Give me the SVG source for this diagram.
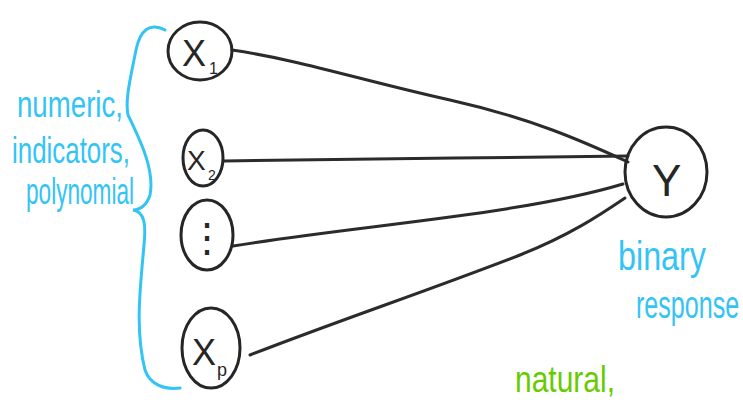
<svg xmlns="http://www.w3.org/2000/svg" width="743" height="402" viewBox="0 0 743 402">
<style>
.node{fill:none;stroke:#262626;stroke-width:3}
.lbl{font-family:"Liberation Sans",Arial,sans-serif;fill:#262626}
.edge{fill:none;stroke:#2b2b2b;stroke-width:3;stroke-linecap:round}
.blue{font-family:"Liberation Sans",Arial,sans-serif;fill:#33c4f5}
.green{font-family:"Liberation Sans",Arial,sans-serif;fill:#66cc00}
</style>
<rect width="743" height="402" fill="#fff"/>
<g id="connectors">
<path class="edge" d="M232 50 C300 60 360 80 450 100 C530 118 580 140 628 162"/>
<path class="edge" d="M224 161 C340 160 500 157 628 156"/>
<path class="edge" d="M233 246 C360 225 520 215 623 184"/>
<path class="edge" d="M250 355 C340 320 430 290 520 255 C570 235 600 215 625 198"/>
</g>
<g id="x1">
<ellipse class="node" cx="200" cy="51" rx="32" ry="29"/>
<text class="lbl" x="182" y="66" font-size="36">X</text>
<text class="lbl" x="209" y="74" font-size="16">1</text>
</g>
<g id="x2">
<ellipse class="node" cx="203" cy="158" rx="20" ry="28"/>
<text class="lbl" x="187" y="170" font-size="28">X</text>
<text class="lbl" x="208" y="180" font-size="14">2</text>
</g>
<g id="xdots">
<ellipse class="node" cx="207" cy="235" rx="26" ry="35"/>
<text class="lbl" x="207" y="251" font-size="40" text-anchor="middle" font-family="DejaVu Sans,sans-serif">⋮</text>
</g>
<g id="xp">
<ellipse class="node" cx="211" cy="348" rx="29" ry="40"/>
<text class="lbl" x="192" y="365" font-size="36">X</text>
<text class="lbl" x="217" y="376" font-size="18">p</text>
</g>
<g id="y">
<ellipse class="node" cx="666" cy="172" rx="41" ry="45"/>
<text class="lbl" x="652" y="196" font-size="44">Y</text>
</g>
<g id="brace">
<path d="M165 30 C150 22 140 30 136 50 C130 80 125 100 128 115 C140 140 155 170 150 195 C147 205 140 210 133 210 C145 212 146 225 144 245 C140 290 135 330 145 370 C150 385 165 390 180 388" fill="none" stroke="#33c4f5" stroke-width="3" stroke-linecap="round"/>
</g>
<g id="labels">
<text class="blue" x="17" y="117" font-size="36" textLength="106" lengthAdjust="spacingAndGlyphs">numeric,</text>
<text class="blue" x="12" y="163" font-size="36" textLength="118" lengthAdjust="spacingAndGlyphs">indicators,</text>
<text class="blue" x="26" y="204" font-size="36" textLength="108" lengthAdjust="spacingAndGlyphs">polynomial</text>
<text class="blue" x="618" y="270" font-size="40" textLength="88" lengthAdjust="spacingAndGlyphs">binary</text>
<text class="blue" transform="translate(636 318) scale(0.66 1)" font-size="38">response</text>
<text class="green" x="515" y="392" font-size="36" textLength="100" lengthAdjust="spacingAndGlyphs">natural,</text>
</g>
</svg>
